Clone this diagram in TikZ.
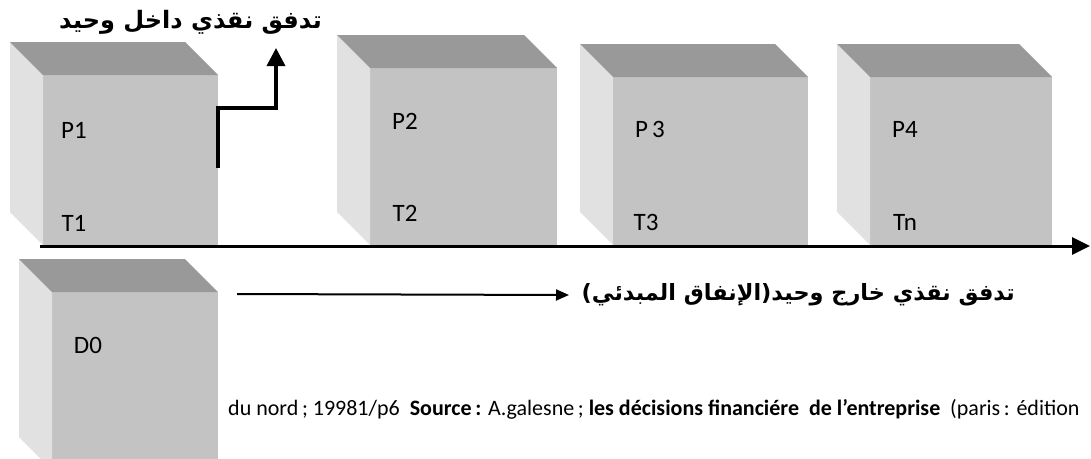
\documentclass[tikz,border=0pt]{standalone}
\usepackage{fontspec}
\setmainfont{Carlito}
\newfontfamily\arabicfont[Script=Arabic]{DejaVu Sans}
\TeXXeTstate=1
\usetikzlibrary{arrows.meta,calc}

\definecolor{facegray}{HTML}{C3C3C3}
\definecolor{topgray}{HTML}{999999}
\definecolor{sidegray}{HTML}{E1E1E1}

\tikzset{
  cubefront/.style={fill=facegray, draw=none, inner sep=0pt, outer sep=0pt},
  cubetop/.style={fill=topgray},
  cubeside/.style={fill=sidegray},
  boxlabel/.style={font=\fontsize{25}{30}\selectfont, inner sep=0pt, anchor=center},
  arlabel/.style={font=\arabicfont\bfseries\fontsize{24}{28}\selectfont, inner sep=0pt},
  timeaxis/.style={line width=3pt, -{Triangle[length=18pt,width=17pt]}},
  inflow/.style={line width=3.5pt, -{Triangle[length=18pt,width=18pt]}},
  outflow/.style={line width=2pt, -{Triangle[length=13pt,width=11pt]}},
}

% a shaded box: front face node plus its side and top faces
\newcommand\shadedbox[5]{%
  \node[cubefront, minimum width=#4, minimum height=#5] (#1) at (#2,#3) {};
  \fill[cubeside] (#1.north west) -- ++(-33,-33) -- ($(#1.south west)+(-33,-33)$) -- (#1.south west) -- cycle;
  \fill[cubetop] (#1.north west) -- ++(-33,-33) -- ($(#1.north east)+(-33,-33)$) -- (#1.north east) -- cycle;
}

\begin{document}
\begin{tikzpicture}[x=1pt, y=-1pt]
  \path[use as bounding box, clip] (0,0) rectangle (1091,458);
  \fill[white] (0,0) rectangle (1091,458);

  % periods
  \shadedbox{P1}{130.5}{160}{175}{170}
  \shadedbox{P2}{463.5}{156.5}{187}{177}
  \shadedbox{P3}{710.5}{161}{195}{168}
  \shadedbox{P4}{961}{161}{182}{168}
  \shadedbox{D0}{135}{381}{166}{178}

  \node[boxlabel] (lp1) at (74,130) {P1};
  \node[boxlabel] (lt1) at (74,223) {T1};
  \node[boxlabel] (lp2) at (405,121) {P2};
  \node[boxlabel] (lt2) at (405,213) {T2};
  \node[boxlabel] (lp3) at (650,129) {P\,3};
  \node[boxlabel] (lt3) at (646,222) {T3};
  \node[boxlabel] (lp4) at (905,129) {P4};
  \node[boxlabel] (lt4) at (905,222) {Tn};
  \node[boxlabel] (ld0) at (88,345) {D0};

  % time axis
  \coordinate (axL) at (40,246);
  \coordinate (axR) at (1090,246);
  \draw[timeaxis] (axL) -- (axR);

  % single cash inflow
  \node[arlabel, anchor=east] (intext) at (322,22) {\beginR تدفق نقذي داخل وحيد\endR};
  \coordinate (inStart) at ($(P1.north east)+(0,93)$);
  \coordinate (inTip) at (276,48);
  \draw[inflow] (inStart) |- ($(inTip)+(0,60)$) -- (inTip);

  % single cash outflow (initial outlay)
  \node[arlabel, font=\arabicfont\bfseries\fontsize{22.4}{27}\selectfont, anchor=east] (outtext) at (1015,295)
    {\beginR تدفق نقذي خارج وحيد(الإنفاق المبدئي)\endR};
  \coordinate (outStart) at (237,294);
  \draw[outflow] (outStart) -- (outtext.west -| 569,294);

  % source line
  \node[font=\fontsize{22}{25}\selectfont, inner sep=0pt, anchor=west] (src) at (228,409)
    {du nord\,; 19981/p6\ \ \textbf{Source\,:} A.galesne\,; \textbf{les décisions financiére\ \ de l’entreprise}\ \ (paris\,: édition};
\end{tikzpicture}
\end{document}
